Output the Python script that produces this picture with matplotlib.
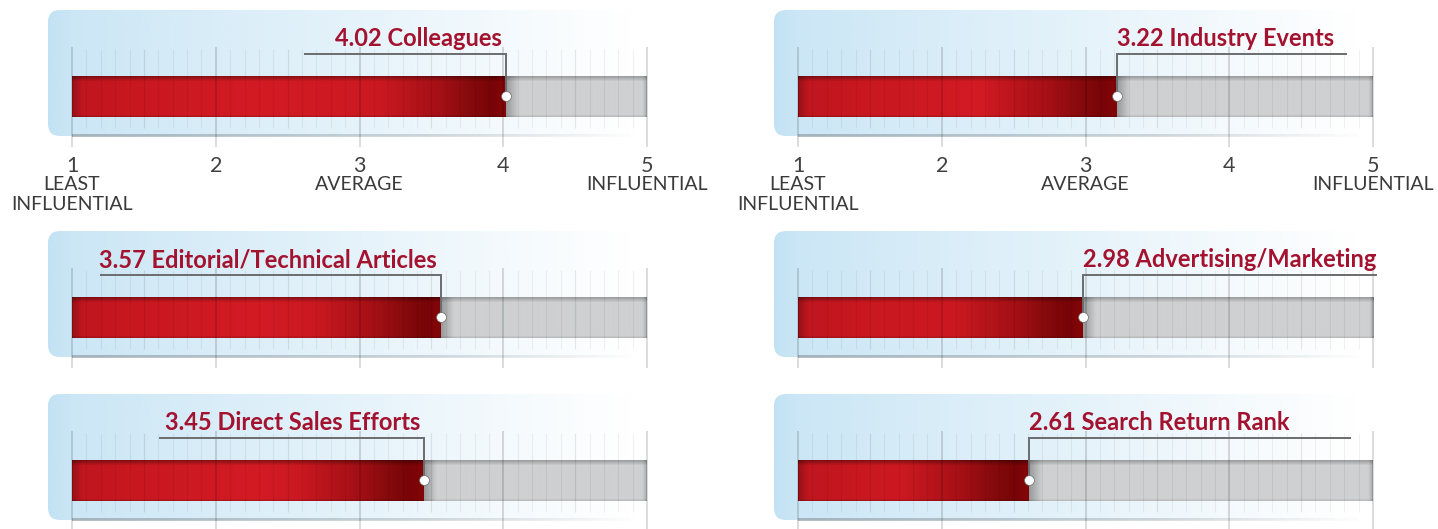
import matplotlib
matplotlib.use("Agg")
import matplotlib.pyplot as plt
import numpy as np
from matplotlib.colors import to_rgb
from matplotlib.patches import FancyBboxPatch

plt.rcParams['font.family'] = ['Lato', 'DejaVu Sans']

# average influence score (1-5) per information source
left_labels = ["Colleagues", "Editorial/Technical Articles", "Direct Sales Efforts"]
left_scores = [4.02, 3.57, 3.45]
right_labels = ["Industry Events", "Advertising/Marketing", "Search Return Rank"]
right_scores = [3.22, 2.98, 2.61]
scale_ticks = [1, 2, 3, 4, 5]
scale_words = [(1, ["LEAST", "INFLUENTIAL"]), (3, ["AVERAGE"]), (5, ["INFLUENTIAL"])]

# layout in pixels
W, H = 1438, 529
PX = 143.75                 # pixels per scale unit
bar_tops = [76, 297, 460]
BAR_H = 41
left_arms = [1.40, 2.37, 1.84]    # callout arm length, scale units
right_arms = [1.59, 2.04, 2.23]

TITLE_RED = '#a3122f'
CALLOUT = '#6b6c6e'
PANEL_BLUE = to_rgb('#c2e2f4')


def ramp(xs, keys):
    kx = [k[0] for k in keys]
    cols = np.array([to_rgb(k[1]) for k in keys])
    return np.stack([np.interp(xs, kx, cols[:, i]) for i in range(3)], axis=-1)


def vertical_profile(top_dark, bottom_dark, n=BAR_H):
    f = np.ones(n)
    f[:6] = np.linspace(top_dark, 1, 6)
    f[-3:] = np.linspace(1, bottom_dark, 3)
    return f


def draw_panel(ax, top, v, label, arm, side, show_scale):
    # soft blue card behind the bar
    x0, x1 = 1 - 24 / PX, 5.45
    card = FancyBboxPatch((x0, top - 66), x1 - x0, 126,
                          boxstyle="round,pad=0,rounding_size=%f" % (12 / PX),
                          mutation_aspect=PX, facecolor='none', edgecolor='none')
    ax.add_patch(card)
    xs = np.linspace(x0, x1, 500)
    alpha = np.interp(xs, [x0, 1.0, 2.0, 3.0, 4.0, 4.9], [1.0, 0.85, 0.62, 0.42, 0.18, 0.0])
    img = np.zeros((1, len(xs), 4))
    img[..., :3] = PANEL_BLUE
    img[..., 3] = alpha
    im = ax.imshow(img, extent=(x0, x1, top + 60, top - 66), aspect='auto',
                   interpolation='bilinear', zorder=0)
    im.set_clip_path(card)

    # faint base line under the card
    xs = np.linspace(1, 4.95, 300)
    img = np.zeros((1, len(xs), 4))
    img[..., :3] = to_rgb('#8e9aa1')
    img[..., 3] = np.interp(xs, [1, 3.5, 4.95], [0.65, 0.35, 0.0])
    ax.imshow(img, extent=(1, 4.95, top + 61, top + 58), aspect='auto',
              interpolation='bilinear', zorder=1)

    # red filled part of the bar
    xs = np.linspace(1, v, 600)
    keys = [(1.0, '#951118'), (1.07, '#c0161f'), (1.5, '#ca1820'), (2.3, '#d31b24')]
    keys = [k for k in keys if k[0] < v - 0.9]
    keys += [(v - 0.9, '#cc1921'), (v - 0.45, '#a20f15'), (v - 0.25, '#850a0c'),
             (v - 0.1, '#780407'), (v, '#860608')]
    red = ramp(xs, keys)[None, :, :] * vertical_profile(0.66, 0.85)[:, None, None]
    ax.imshow(np.clip(red, 0, 1), extent=(1, v, top + BAR_H, top), aspect='auto',
              interpolation='bilinear', zorder=2)

    # grey remainder of the bar
    xs = np.linspace(v, 5, 600)
    keys = [(v, '#98999b'), (v + 0.09, '#cfd0d2'), (4.97, '#cfd0d2'), (5.0, '#a9aaac')]
    grey = ramp(xs, keys)[None, :, :] * vertical_profile(0.76, 0.9)[:, None, None]
    ax.imshow(np.clip(grey, 0, 1), extent=(v, 5, top + BAR_H, top), aspect='auto',
              interpolation='bilinear', zorder=2)

    # scale grid
    for i in range(41):
        x = 1 + i * 0.1
        if i % 10 == 0:
            ax.vlines(x, top - 29, top + 71, color='black', alpha=0.14, lw=1.4, zorder=3)
        elif i % 5 == 0:
            ax.vlines(x, top - 27, top + 52, color='black', alpha=0.09, lw=0.9, zorder=3)
        else:
            ax.vlines(x, top - 27, top + 52, color='black', alpha=0.055, lw=0.8, zorder=3)

    # callout from the score marker to its label
    yc = top + 20
    ya = top - 22
    end = v - arm if side == 'left' else v + arm
    ax.plot([v, v, end], [yc, ya, ya], color=CALLOUT, lw=1.4,
            solid_joinstyle='miter', zorder=4)
    ax.scatter([v], [yc], s=50, c='white', edgecolors='#6a6a6a', linewidths=0.5, zorder=6)
    text = "%.2f %s" % (v, label)
    if side == 'left':
        ax.text(v - 0.03, top - 30, text, ha='right', va='baseline', color=TITLE_RED,
                fontsize=17, fontweight='bold', zorder=6)
    else:
        ax.text(v, top - 30, text, ha='left', va='baseline', color=TITLE_RED,
                fontsize=17, fontweight='bold', zorder=6)

    if show_scale:
        for t in scale_ticks:
            ax.text(t, top + 96, str(t), ha='center', va='baseline', color='#404040',
                    fontsize=15.5)
        for t, words in scale_words:
            for j, w in enumerate(words):
                ax.text(t, top + 114 + 20 * j, w, ha='center', va='baseline',
                        color='#3a3a3a', fontsize=14)


fig = plt.figure(figsize=(W / 100, H / 100), dpi=100)

columns = [
    (40, 720, 72, left_labels, left_scores, left_arms, 'left'),
    (760, 1438, 798, right_labels, right_scores, right_arms, 'right'),
]
for px0, px1, one_px, labels, scores, arms, side in columns:
    ax = fig.add_axes([px0 / W, 0, (px1 - px0) / W, 1])
    for r, (lab, v, arm) in enumerate(zip(labels, scores, arms)):
        draw_panel(ax, bar_tops[r], v, lab, arm, side, r == 0)
    ax.set_xlim(1 - (one_px - px0) / PX, 1 + (px1 - one_px) / PX)
    ax.set_ylim(H, 0)
    ax.set_axis_off()

fig.savefig("out.png", dpi=100)
